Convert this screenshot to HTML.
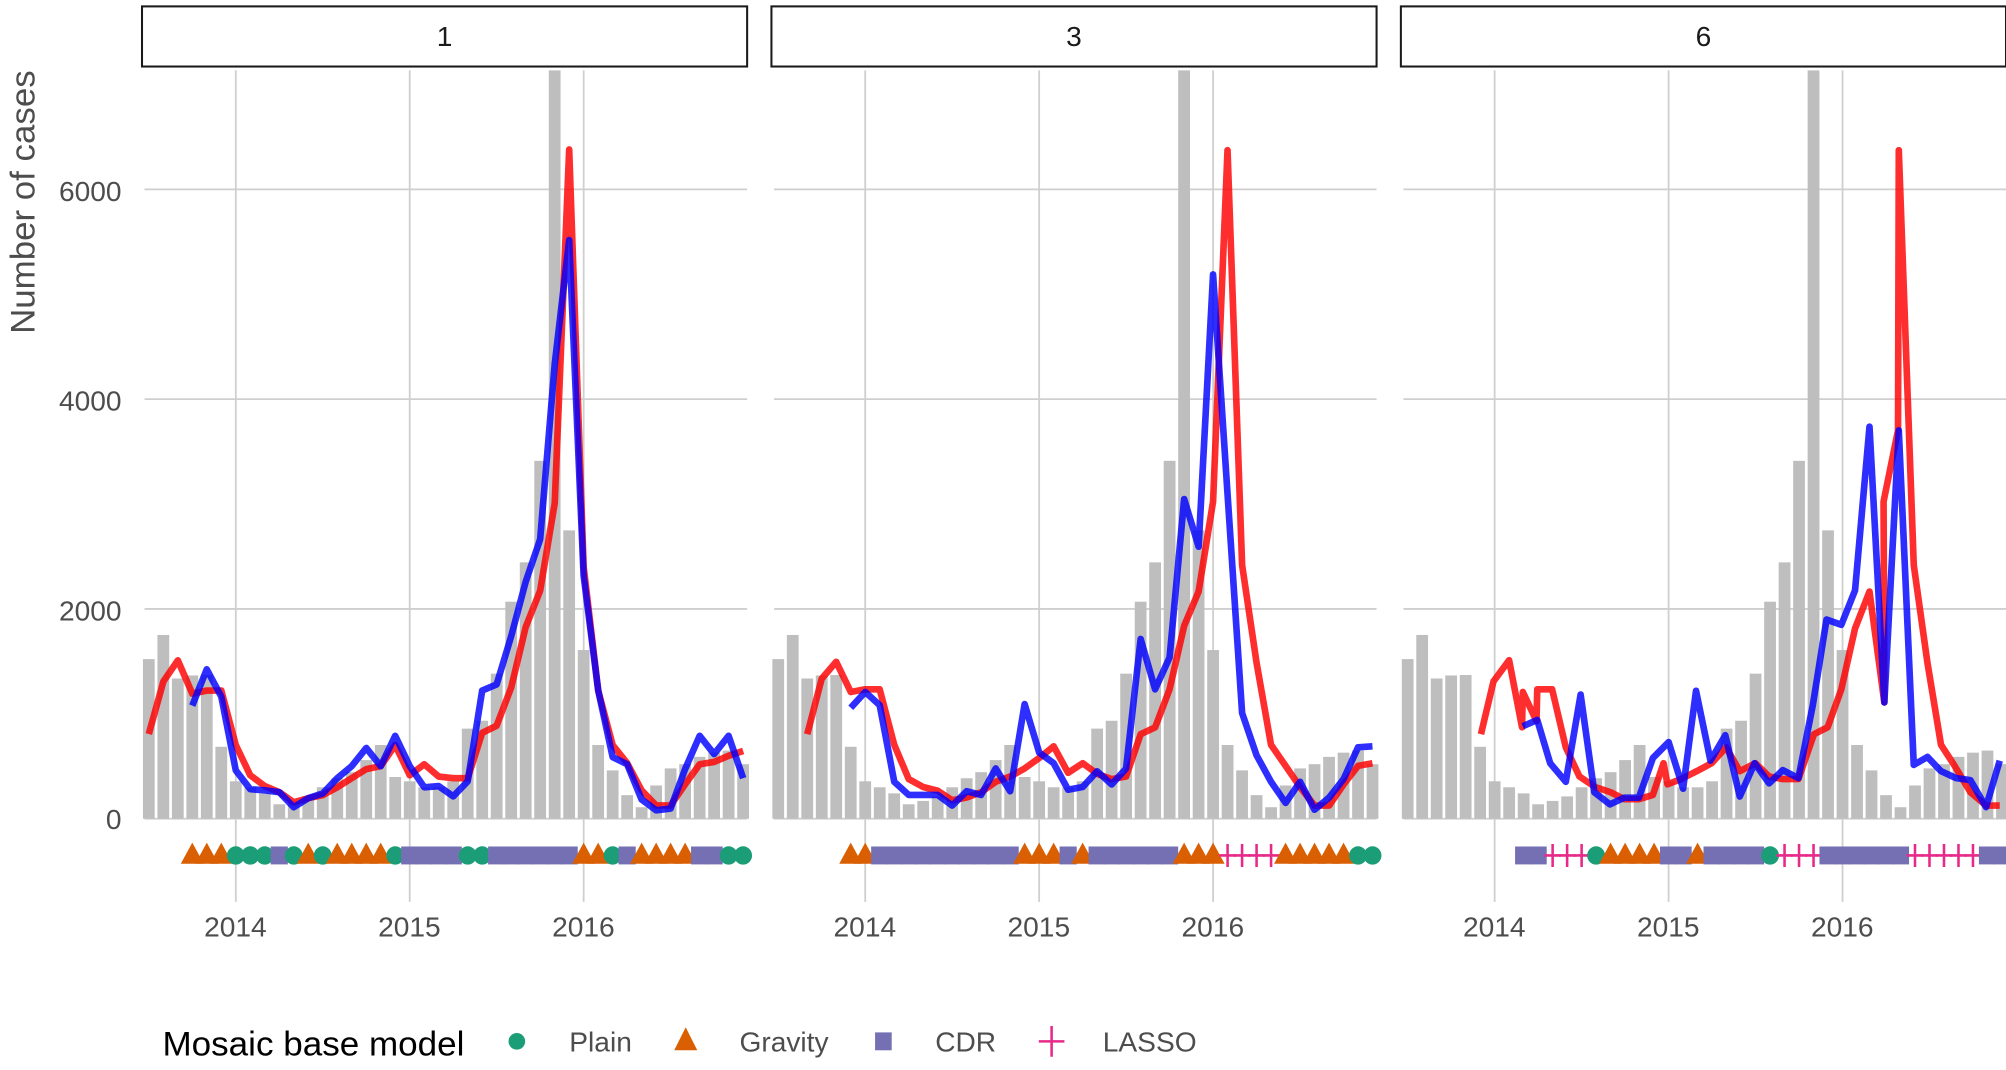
<!DOCTYPE html>
<html><head><meta charset="utf-8"><style>
html,body{margin:0;padding:0;background:#fff;}
svg{display:block;}
text{font-family:"Liberation Sans",sans-serif;}
</style></head><body>
<svg id="s" width="2006" height="1070" viewBox="0 0 1568 836.4" preserveAspectRatio="none" xmlns="http://www.w3.org/2000/svg">
<g id="grid"></g>
<g id="bars"></g>
<g id="lines"></g>
<g id="marks"></g>
<g font-size="22" fill="#4d4d4d" text-anchor="end">
<text x="95" y="157">6000</text>
<text x="95" y="321">4000</text>
<text x="95" y="485">2000</text>
<text x="95" y="648">0</text>
</g>
<text transform="translate(27,158) rotate(-90)" font-size="27" fill="#4d4d4d" text-anchor="middle" textLength="206" lengthAdjust="spacingAndGlyphs">Number of cases</text>
<g font-size="22" fill="#4d4d4d" text-anchor="middle">
<text x="184" y="732">2014</text><text x="320" y="732">2015</text><text x="456" y="732">2016</text>
<text x="676" y="732">2014</text><text x="812" y="732">2015</text><text x="948" y="732">2016</text>
<text x="1168" y="732">2014</text><text x="1304" y="732">2015</text><text x="1440" y="732">2016</text>
</g>
<g fill="#fff" stroke="#1a1a1a" stroke-width="1.6">
<rect x="111" y="5" width="473" height="47"/>
<rect x="603" y="5" width="473" height="47"/>
<rect x="1095" y="5" width="473" height="47"/>
</g>
<g font-size="22" fill="#1a1a1a" text-anchor="middle">
<text x="347.5" y="36">1</text><text x="839.5" y="36">3</text><text x="1331.5" y="36">6</text>
</g>
<text x="127" y="825" font-size="27" fill="#000" textLength="236" lengthAdjust="spacingAndGlyphs">Mosaic base model</text>
<circle cx="404" cy="814" r="6.5" fill="#1b9e77"/>
<text x="445" y="822" font-size="22" fill="#4d4d4d">Plain</text>
<polygon points="536,803 545,821 527,821" fill="#d95f02"/>
<text x="578" y="822" font-size="22" fill="#4d4d4d">Gravity</text>
<rect x="684" y="807" width="13" height="14" fill="#7570b3"/>
<text x="731" y="822" font-size="22" fill="#4d4d4d">CDR</text>
<path d="M822 802 V826 M812 814 H832" stroke="#e7298a" stroke-width="2"/>
<text x="862" y="822" font-size="22" fill="#4d4d4d">LASSO</text>
</svg>
<script>
var NS="http://www.w3.org/2000/svg";
function el(g,t,a){var e=document.createElementNS(NS,t);for(var k in a)e.setAttribute(k,a[k]);document.getElementById(g).appendChild(e);return e;}
function X(p,i){return 184.3+(i-6)*11.33+492*p;}
function Y(v){return 640-v*0.082;}
var bars=[1522,1752,1337,1366,1370,686,357,300,242,138,170,213,300,386,444,559,703,398,357,300,300,357,859,934,1383,2069,2444,3412,7150,2749,1608,703,461,225,110,317,480,520,590,630,650,520];
for(var p=0;p<3;p++){
  var L=111+492*p,R=584+492*p;
  [0,2000,4000,6000].forEach(function(v){el("grid","line",{x1:L+2,x2:R,y1:Y(v),y2:Y(v),stroke:"#cfcfcf","stroke-width":1.4});});
  [0,1,2].forEach(function(k){var x=X(p,6+12*k);el("grid","line",{x1:x,x2:x,y1:55,y2:705,stroke:"#cfcfcf","stroke-width":1.4});});
  bars.forEach(function(v,i){var y=Math.max(55,Y(v));el("bars","rect",{x:X(p,i)-4.6,y:y,width:9.2,height:640-y,fill:"#bebebe"});});
}
var SW=5.2;
function mline(p,start,vals,col){var pts=vals.map(function(v,k){return X(p,start+k).toFixed(1)+","+Y(v).toFixed(1);}).join(" ");
 el("lines","polyline",{points:pts,fill:"none",stroke:col,"stroke-width":SW,"stroke-linejoin":"round","stroke-opacity":0.82});}
function zline(p,pairs,col){var pts=pairs.map(function(q){var i=6+(q[0]-263)/37.08;var v=(1435-q[1])/397*2000;return X(p,i).toFixed(1)+","+Y(v).toFixed(1);}).join(" ");
 el("lines","polyline",{points:pts,fill:"none",stroke:col,"stroke-width":SW,"stroke-linejoin":"round","stroke-opacity":0.82});}
var RED="#ff0000",BLUE="#0000ff";
mline(0,0,[807,1308,1510,1193,1222,1222,703,415,311,254,156,196,225,300,386,473,501,703,415,519,403,386,386,818,887,1251,1827,2173,3009,6380,2403,1222,703,530,271,127,127,328,519,542,600,646],RED);
mline(0,3,[1078,1424,1164,461,282,271,254,110,196,242,386,501,674,501,790,501,300,311,213,357,1222,1280,1741,2259,2663,4334,5516,2317,1222,588,519,184,81,98,473,790,617,790,386],BLUE);
mline(1,2,[806,1335,1496,1209,1234,1234,705,378,302,267,176,202,252,353,403,479,579,690,438,529,428,378,403,806,871,1234,1839,2166,3023,6373,2418,1486,705,504,302,126,126,327,504,529],RED);
mline(1,5,[1058,1209,1083,353,227,227,227,126,262,227,479,262,1093,630,529,277,302,453,327,479,1713,1234,1536,3048,2594,5189,3098,1007,605,353,151,353,86,202,378,680,690],BLUE);
zline(2,[[228,1275],[260,1175],[300,1135],[333,1262],[335,1195],[370,1250],[372,1190],[410,1190],[445,1300],[480,1355],[520,1375],[560,1385],[595,1398],[632,1398],[668,1390],[695,1330],[705,1370],[740,1360],[780,1345],[818,1330],[855,1300],[890,1345],[930,1330],[965,1355],[1000,1360],[1040,1360],[1080,1275],[1115,1262],[1150,1190],[1185,1075],[1222,1005],[1260,1215],[1258,835],[1295,700],[1297,170],[1335,955],[1370,1140],[1405,1295],[1440,1335],[1480,1385],[1520,1410],[1555,1410]],RED);
zline(2,[[335,1260],[372,1248],[405,1330],[445,1365],[483,1200],[518,1385],[558,1408],[595,1395],[632,1395],[668,1320],[708,1290],[745,1378],[778,1193],[815,1325],[853,1277],[890,1393],[928,1330],[965,1368],[1000,1343],[1040,1358],[1077,1220],[1112,1058],[1150,1068],[1185,1003],[1222,693],[1260,1215],[1297,700],[1335,1333],[1370,1318],[1405,1345],[1443,1358],[1480,1362],[1520,1413],[1555,1325]],BLUE);
var MY=Y(-350);
function mk(p,i,t){var x=X(p,i);
 if(t=="C")el("marks","rect",{x:x-6.7,y:MY-7,width:13.4,height:14,fill:"#7570b3"});
 else if(t=="P")el("marks","ellipse",{cx:x,cy:MY,rx:7,ry:7.2,fill:"#1b9e77"});
 else if(t=="G")el("marks","polygon",{points:(x)+","+(MY-10)+" "+(x+9)+","+(MY+6.5)+" "+(x-9)+","+(MY+6.5),fill:"#d95f02"});
 else if(t=="L"){el("marks","path",{d:"M"+x+" "+(MY-9)+"V"+(MY+9)+"M"+(x-6.5)+" "+MY+"H"+(x+6.5),stroke:"#e7298a","stroke-width":2});}
}
function seq(p,s,str){for(var k=0;k<str.length;k++){if(str[k]!=".")mk(p,s+k,str[k]);}}
seq(0,3,"GGGPPPCPGPGGGGPCCCCPPCCCCCCGGPCGGGGCCPP");
seq(1,5,"GGCCCCCCCCCCGGGCGCCCCCCGGGLLLLGGGGGPP");
seq(2,8,"CCLLLPGGGGCCGCCCCPLLLCCCCCCLLLLLCC");
</script>
</body></html>
